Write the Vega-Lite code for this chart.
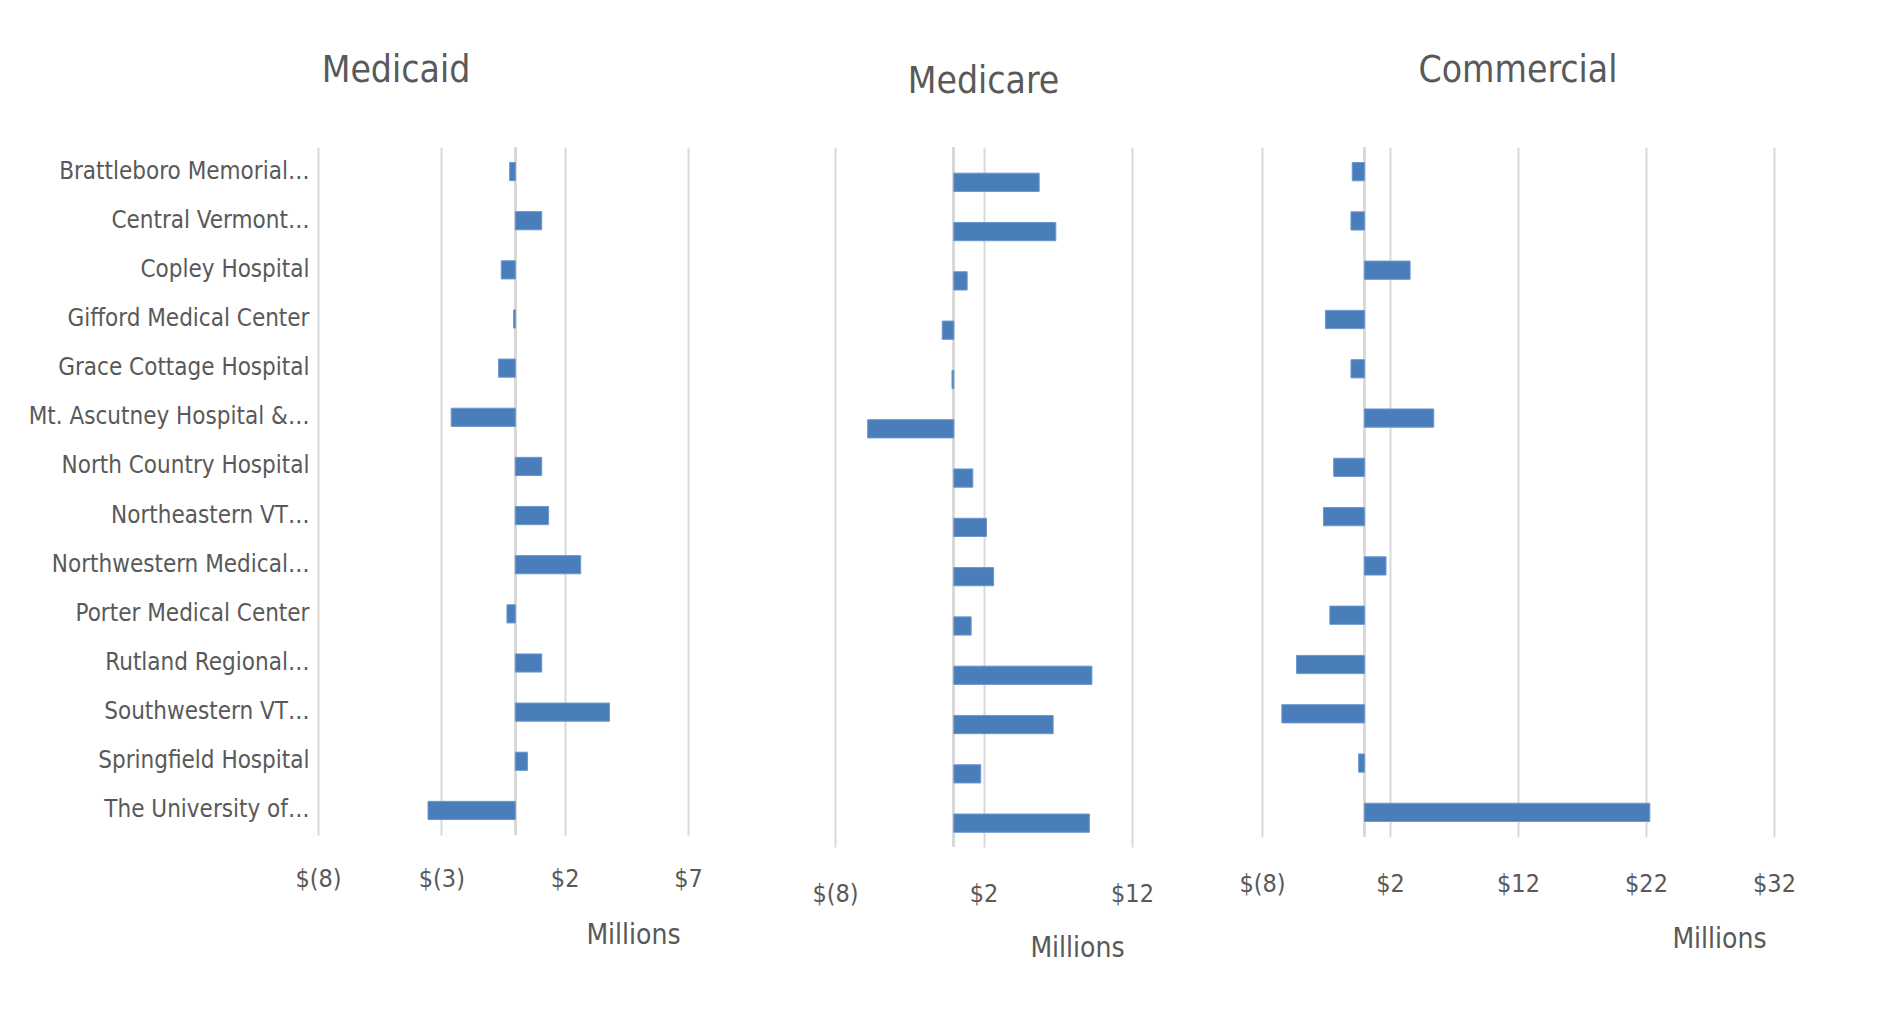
{
  "$schema": "https://vega.github.io/schema/vega-lite/v6.json",
  "autosize": {"type": "none"},
  "padding": {"left": 318, "top": 147, "right": 1567, "bottom": 867},
  "background": "white",
  "datasets": {
    "d": [
      {"hospital": "Brattleboro Memorial…", "payer": "Medicaid", "value": -0.23},
      {"hospital": "Central Vermont…", "payer": "Medicaid", "value": 1.07},
      {"hospital": "Copley Hospital", "payer": "Medicaid", "value": -0.57},
      {"hospital": "Gifford Medical Center", "payer": "Medicaid", "value": -0.07},
      {"hospital": "Grace Cottage Hospital", "payer": "Medicaid", "value": -0.68},
      {"hospital": "Mt. Ascutney Hospital &…", "payer": "Medicaid", "value": -2.6},
      {"hospital": "North Country Hospital", "payer": "Medicaid", "value": 1.07},
      {"hospital": "Northeastern VT…", "payer": "Medicaid", "value": 1.35},
      {"hospital": "Northwestern Medical…", "payer": "Medicaid", "value": 2.65},
      {"hospital": "Porter Medical Center", "payer": "Medicaid", "value": -0.34},
      {"hospital": "Rutland Regional…", "payer": "Medicaid", "value": 1.07},
      {"hospital": "Southwestern VT…", "payer": "Medicaid", "value": 3.82},
      {"hospital": "Springfield Hospital", "payer": "Medicaid", "value": 0.49},
      {"hospital": "The University of…", "payer": "Medicaid", "value": -3.54},
      {"hospital": "Brattleboro Memorial…", "payer": "Medicare", "value": 5.75},
      {"hospital": "Central Vermont…", "payer": "Medicare", "value": 6.87},
      {"hospital": "Copley Hospital", "payer": "Medicare", "value": 0.9},
      {"hospital": "Gifford Medical Center", "payer": "Medicare", "value": -0.78},
      {"hospital": "Grace Cottage Hospital", "payer": "Medicare", "value": -0.12},
      {"hospital": "Mt. Ascutney Hospital &…", "payer": "Medicare", "value": -5.8},
      {"hospital": "North Country Hospital", "payer": "Medicare", "value": 1.28},
      {"hospital": "Northeastern VT…", "payer": "Medicare", "value": 2.2},
      {"hospital": "Northwestern Medical…", "payer": "Medicare", "value": 2.68},
      {"hospital": "Porter Medical Center", "payer": "Medicare", "value": 1.17},
      {"hospital": "Rutland Regional…", "payer": "Medicare", "value": 9.3},
      {"hospital": "Southwestern VT…", "payer": "Medicare", "value": 6.69},
      {"hospital": "Springfield Hospital", "payer": "Medicare", "value": 1.81},
      {"hospital": "The University of…", "payer": "Medicare", "value": 9.13},
      {"hospital": "Brattleboro Memorial…", "payer": "Commercial", "value": -0.95},
      {"hospital": "Central Vermont…", "payer": "Commercial", "value": -1.05},
      {"hospital": "Copley Hospital", "payer": "Commercial", "value": 3.57},
      {"hospital": "Gifford Medical Center", "payer": "Commercial", "value": -3.05},
      {"hospital": "Grace Cottage Hospital", "payer": "Commercial", "value": -1.05},
      {"hospital": "Mt. Ascutney Hospital &…", "payer": "Commercial", "value": 5.42},
      {"hospital": "North Country Hospital", "payer": "Commercial", "value": -2.4},
      {"hospital": "Northeastern VT…", "payer": "Commercial", "value": -3.2},
      {"hospital": "Northwestern Medical…", "payer": "Commercial", "value": 1.69},
      {"hospital": "Porter Medical Center", "payer": "Commercial", "value": -2.7},
      {"hospital": "Rutland Regional…", "payer": "Commercial", "value": -5.3},
      {"hospital": "Southwestern VT…", "payer": "Commercial", "value": -6.45},
      {"hospital": "Springfield Hospital", "payer": "Commercial", "value": -0.45},
      {"hospital": "The University of…", "payer": "Commercial", "value": 22.3}
    ]
  },
  "config": {
    "view": {"stroke": null},
    "font": "'Liberation Sans Narrow', 'Arial Narrow', 'DejaVu Sans Condensed', 'Liberation Sans', sans-serif",
    "axis": {
      "labelColor": "#595959",
      "titleColor": "#595959",
      "labelFont": "'Liberation Sans Narrow', 'Arial Narrow', 'DejaVu Sans Condensed', 'Liberation Sans', sans-serif",
      "titleFont": "'Liberation Sans Narrow', 'Arial Narrow', 'DejaVu Sans Condensed', 'Liberation Sans', sans-serif",
      "titleFontWeight": "normal",
      "domain": false,
      "ticks": false,
      "tickSize": 0,
      "labelFlush": false,
      "labelOverlap": false,
      "gridColor": "#d9d9d9",
      "gridWidth": 2
    },
    "title": {
      "font": "'Liberation Sans Narrow', 'Arial Narrow', 'DejaVu Sans Condensed', 'Liberation Sans', sans-serif",
      "fontSize": 37,
      "fontWeight": "normal",
      "color": "#595959",
      "baseline": "alphabetic",
      "offset": 56,
      "frame": "group",
      "anchor": "middle"
    }
  },
  "bounds": "flush",
  "spacing": 147,
  "hconcat": [
    {
      "width": 370,
      "height": 688,
      "title": {"text": "Medicaid", "dx": -107},
      "data": {"name": "d"},
      "transform": [{"filter": "datum.payer === 'Medicaid'"}],
      "layer": [
        {
          "mark": {"type": "rule", "color": "#d9d9d9", "strokeWidth": 2},
          "encoding": {"x": {"datum": 0, "type": "quantitative"}}
        },
        {
          "mark": {"type": "bar", "color": "#4a7ebb", "stroke": "#6b98cf", "strokeWidth": 1},
          "encoding": {
            "y": {
              "field": "hospital", "type": "nominal", "sort": null,
              "scale": {"paddingInner": 0.63, "paddingOuter": 0.315},
              "axis": {"title": null, "labelFontSize": 24, "labelPadding": 9, "labelLimit": 400}
            },
            "x": {
              "field": "value", "type": "quantitative",
              "scale": {"domain": [-8, 7], "nice": false},
              "axis": {
                "values": [-8, -3, 2, 7],
                "labelExpr": "datum.value < 0 ? '$(' + (-datum.value) + ')' : '$' + datum.value",
                "labelFontSize": 25, "labelPadding": 43, "labelBaseline": "middle",
                "grid": true,
                "title": "Millions", "titleFontSize": 28, "titleX": 315, "titleY": 100,
                "titleBaseline": "middle", "titleAlign": "center"
              }
            }
          }
        }
      ]
    },
    {
      "bounds": "flush",
      "spacing": 130,
      "hconcat": [
        {
          "width": 297,
          "height": 700,
          "title": {"text": "Medicare", "offset": 45},
          "data": {"name": "d"},
          "transform": [{"filter": "datum.payer === 'Medicare'"}],
          "layer": [
            {
              "mark": {"type": "rule", "color": "#d9d9d9", "strokeWidth": 2},
              "encoding": {"x": {"datum": 0, "type": "quantitative"}}
            },
            {
              "mark": {"type": "bar", "color": "#4a7ebb", "stroke": "#6b98cf", "strokeWidth": 1},
              "encoding": {
                "y": {
                  "field": "hospital", "type": "nominal", "sort": null,
                  "scale": {"paddingInner": 0.63, "paddingOuter": 0.415, "align": 0.64},
                  "axis": null
                },
                "x": {
                  "field": "value", "type": "quantitative",
                  "scale": {"domain": [-8, 12], "nice": false},
                  "axis": {
                    "values": [-8, 2, 12],
                    "labelExpr": "datum.value < 0 ? '$(' + (-datum.value) + ')' : '$' + datum.value",
                    "labelFontSize": 25, "labelPadding": 46, "labelBaseline": "middle",
                    "grid": true,
                    "title": "Millions", "titleFontSize": 28, "titleX": 242, "titleY": 101,
                    "titleBaseline": "middle", "titleAlign": "center"
                  }
                }
              }
            }
          ]
        },
        {
          "width": 512,
          "height": 690,
          "title": {"text": "Commercial"},
          "data": {"name": "d"},
          "transform": [{"filter": "datum.payer === 'Commercial'"}],
          "layer": [
            {
              "mark": {"type": "rule", "color": "#d9d9d9", "strokeWidth": 2},
              "encoding": {"x": {"datum": 0, "type": "quantitative"}}
            },
            {
              "mark": {"type": "bar", "color": "#4a7ebb", "stroke": "#6b98cf", "strokeWidth": 1},
              "encoding": {
                "y": {
                  "field": "hospital", "type": "nominal", "sort": null,
                  "scale": {"paddingInner": 0.63, "paddingOuter": 0.315},
                  "axis": null
                },
                "x": {
                  "field": "value", "type": "quantitative",
                  "scale": {"domain": [-8, 32], "nice": false},
                  "axis": {
                    "values": [-8, 2, 12, 22, 32],
                    "labelExpr": "datum.value < 0 ? '$(' + (-datum.value) + ')' : '$' + datum.value",
                    "labelFontSize": 25, "labelPadding": 46, "labelBaseline": "middle",
                    "grid": true,
                    "title": "Millions", "titleFontSize": 28, "titleX": 457, "titleY": 102,
                    "titleBaseline": "middle", "titleAlign": "center"
                  }
                }
              }
            }
          ]
        }
      ]
    }
  ]
}
